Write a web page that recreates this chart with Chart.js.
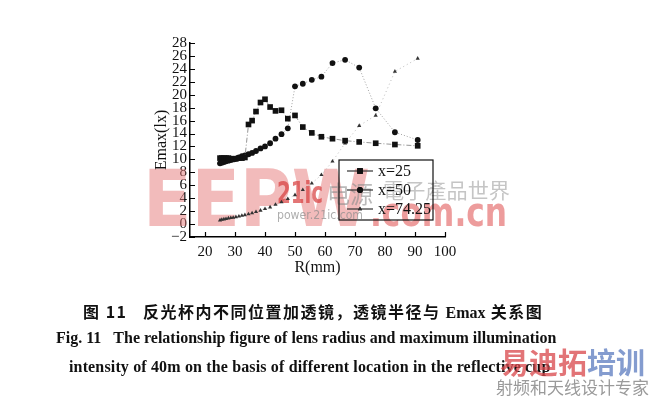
<!DOCTYPE html>
<html>
<head>
<meta charset="utf-8">
<script src="https://cdn.jsdelivr.net/npm/chart.js@4/dist/chart.umd.min.js"></script>
<style>
  body { margin: 0; background: #fff; }
  #wrap { position: relative; width: 649px; height: 397px; overflow: hidden; }
  #chart { position: absolute; left: 0; top: 0; }
  .cap { position: absolute; white-space: nowrap; color: #111; font-weight: bold; }
  .cn { font-family: "Noto Sans CJK SC", sans-serif; font-size: 16px; letter-spacing: 1.5px; }
  .en { font-family: "Liberation Serif", serif; font-size: 16px; }
  .mark { position: absolute; white-space: nowrap; font-family: "Noto Sans CJK SC", sans-serif; }
</style>
</head>
<body>
<div id="wrap">
  <canvas id="chart" width="649" height="397"></canvas>
  <div class="cap cn" style="left:83px; top:299px;">图 11&nbsp;&nbsp;&nbsp;反光杯内不同位置加透镜，透镜半径与 <span style="font-family:'Liberation Serif',serif;font-size:16px;letter-spacing:0">Emax</span> 关系图</div>
  <div class="cap en" style="left:56px; top:329px;">Fig. 11&nbsp;&nbsp;&nbsp;The relationship figure of lens radius and maximum illumination</div>
  <div class="cap en" style="left:69px; top:358px; letter-spacing:0.15px">intensity of 40m on the basis of different location in the reflective cup</div>
  <div class="mark" style="left:500px; top:340px; font-size:29px; font-weight:bold; opacity:0.75"><span style="color:#d9464a">易迪拓</span><span style="color:#5b7bbf">培训</span></div>
  <div class="mark" style="left:496px; top:374px; font-size:17px; color:#9a9a9a;">射频和天线设计专家</div>
</div>
<script>
// R values (mm)
const rValues = [25.0, 25.6, 26.3, 27.0, 27.8, 28.6, 29.4, 30.3, 31.3, 32.3,
                 33.3, 34.5, 35.7, 37.0, 38.5, 40.0, 41.7, 43.5, 45.5, 47.6,
                 50.0, 52.6, 55.6, 58.8, 62.5, 66.7, 71.4, 76.9, 83.3, 90.9];

// Emax (lx) for each lens position
const emaxX25 = [10.2, 10.2, 10.2, 10.2, 10.2, 10.1, 10.1, 10.1, 10.2, 10.2,
                 10.3, 15.4, 16.0, 17.4, 18.8, 19.3, 18.1, 17.5, 17.6, 16.3,
                 16.8, 15.0, 14.1, 13.5, 13.2, 12.9, 12.7, 12.5, 12.3, 12.1];
const emaxX50 = [9.4, 9.5, 9.6, 9.7, 9.8, 9.9, 10.0, 10.1, 10.3, 10.5,
                 10.6, 10.8, 11.0, 11.3, 11.7, 12.0, 12.5, 13.2, 13.9, 14.8,
                 21.3, 21.7, 22.3, 22.8, 24.9, 25.4, 24.2, 17.9, 14.2, 13.0];
const emaxX7425 = [0.6, 0.7, 0.75, 0.8, 0.9, 0.95, 1.0, 1.1, 1.2, 1.3,
                   1.4, 1.55, 1.7, 1.9, 2.1, 2.35, 2.6, 3.0, 3.4, 3.9,
                   4.5, 5.3, 6.3, 7.6, 9.7, 12.5, 15.2, 16.8, 23.6, 25.6];

const seriesNames = ['x=25', 'x=50', 'x=74.25'];
const xTicks = [20, 30, 40, 50, 60, 70, 80, 90, 100];
const yTicks = [-2, 0, 2, 4, 6, 8, 10, 12, 14, 16, 18, 20, 22, 24, 26, 28];

const serif = "'Liberation Serif', 'Times New Roman', serif";

function pts(ys) {
  return rValues.map((r, i) => ({x: r, y: ys[i]}));
}

// ticks drawn on the inner side of the axes
const innerTicks = {
  id: 'innerTicks',
  afterDraw(chart) {
    const {ctx, chartArea: a, scales: {x, y}} = chart;
    ctx.save();
    ctx.strokeStyle = '#000';
    ctx.lineWidth = 1.2;
    ctx.beginPath();
    xTicks.forEach(v => {
      const px = Math.round(x.getPixelForValue(v)) + 0.5;
      ctx.moveTo(px, a.bottom);
      ctx.lineTo(px, a.bottom - 5);
    });
    yTicks.forEach(v => {
      const py = Math.round(y.getPixelForValue(v)) + 0.5;
      ctx.moveTo(a.left, py);
      ctx.lineTo(a.left + 5, py);
    });
    ctx.stroke();
    ctx.restore();
  }
};

// legend box inside the plot
const boxLegend = {
  id: 'boxLegend',
  afterDraw(chart) {
    const {ctx, chartArea: a} = chart;
    const left = a.left + 149, top = a.top + 117, w = 94, h = 60;
    ctx.save();
    ctx.strokeStyle = '#111';
    ctx.lineWidth = 1.2;
    ctx.strokeRect(left, top, w, h);
    chart.data.datasets.forEach((ds, i) => {
      const cy = top + 11 + i * 19;
      ctx.strokeStyle = '#333';
      ctx.lineWidth = 1.2;
      ctx.beginPath();
      ctx.moveTo(left + 8, cy);
      ctx.lineTo(left + 34, cy);
      ctx.stroke();
      Chart.helpers.drawPoint(ctx, {
        pointStyle: ds.pointStyle, radius: ds.pointRadius,
        borderWidth: 0, rotation: 0
      }, left + 21, cy);
      ctx.fillStyle = ds.pointBackgroundColor;
      ctx.fill();
      ctx.fillStyle = '#111';
      ctx.font = '16px ' + serif;
      ctx.textBaseline = 'middle';
      ctx.fillText(ds.label, left + 39, cy + 1);
    });
    ctx.restore();
  }
};

// site watermark behind the data
function fitText(ctx, text, x, base, w, font, color) {
  ctx.font = font;
  const m = ctx.measureText(text).width;
  ctx.save();
  ctx.translate(x, base);
  ctx.scale(w / m, 1);
  ctx.fillStyle = color;
  ctx.fillText(text, 0, 0);
  ctx.restore();
}
const watermark = {
  id: 'watermark',
  beforeDatasetsDraw(chart) {
    const {ctx} = chart;
    ctx.save();
    ctx.textBaseline = 'alphabetic';
    fitText(ctx, 'EEPW', 143, 226, 227, 'bold 78px "DejaVu Sans"', 'rgba(230,120,120,0.5)');
    fitText(ctx, '.com.cn', 370, 226, 137, 'bold 40px "DejaVu Sans"', 'rgba(225,90,90,0.6)');
    fitText(ctx, '21ic', 277, 203, 46, 'bold 30px "DejaVu Sans"', 'rgba(215,60,60,0.7)');
    fitText(ctx, '电源', 327, 203, 46, '24px "Noto Sans CJK SC"', 'rgba(140,140,140,0.6)');
    fitText(ctx, '電子產品世界', 383, 198, 127, '21px "Noto Sans CJK TC"', 'rgba(150,150,150,0.55)');
    fitText(ctx, 'power.21ic.com', 277, 219, 86, '13px "DejaVu Sans"', 'rgba(140,140,140,0.7)');
    ctx.restore();
  }
};

new Chart(document.getElementById('chart'), {
  type: 'line',
  data: {
    datasets: [
      {
        label: seriesNames[0],
        data: pts(emaxX25),
        borderColor: '#8a8a8a',
        borderWidth: 0.9,
        borderDash: [5, 2, 1, 2],
        pointStyle: 'rect',
        pointRadius: 4,
        pointBackgroundColor: '#111',
        pointBorderWidth: 0
      },
      {
        label: seriesNames[1],
        data: pts(emaxX50),
        borderColor: '#999',
        borderWidth: 0.9,
        borderDash: [1, 2],
        pointStyle: 'circle',
        pointRadius: 2.9,
        pointBackgroundColor: '#111',
        pointBorderWidth: 0
      },
      {
        label: seriesNames[2],
        data: pts(emaxX7425),
        borderColor: '#aaa',
        borderWidth: 0.8,
        borderDash: [1, 3],
        pointStyle: 'triangle',
        pointRadius: 2.4,
        pointBackgroundColor: '#333',
        pointBorderWidth: 0
      }
    ]
  },
  options: {
    responsive: false,
    animation: false,
    layout: { padding: { left: 148, right: 204, top: 43, bottom: 120 } },
    plugins: { legend: { display: false }, tooltip: { enabled: false } },
    elements: { line: { tension: 0 } },
    scales: {
      x: {
        type: 'linear',
        min: 15, max: 100,
        afterBuildTicks: s => { s.ticks = xTicks.map(v => ({value: v})); },
        afterFit: s => { s.height = 40; },
        grid: { display: false, drawTicks: false },
        border: { display: true, color: '#000', width: 1.5 },
        ticks: { padding: 6, color: '#111', autoSkip: false, maxRotation: 0,
                 font: { family: serif, size: 15 } },
        title: { display: true, text: 'R(mm)', color: '#111', padding: { top: 0, bottom: 0 },
                 font: { family: serif, size: 16 } }
      },
      y: {
        min: -2, max: 28,
        afterBuildTicks: s => { s.ticks = yTicks.map(v => ({value: v})); },
        afterFit: s => { s.width = 42; },
        grid: { display: false, drawTicks: false },
        border: { display: true, color: '#000', width: 1.5 },
        ticks: { padding: 3, color: '#111', autoSkip: false,
                 callback: v => v < 0 ? '\u22122' : v,
                 font: { family: serif, size: 15 } },
        title: { display: true, text: 'Emax(lx)', color: '#111', padding: { top: 4, bottom: 0 },
                 font: { family: serif, size: 16 } }
      }
    }
  },
  plugins: [watermark, innerTicks, boxLegend]
});
</script>
</body>
</html>
